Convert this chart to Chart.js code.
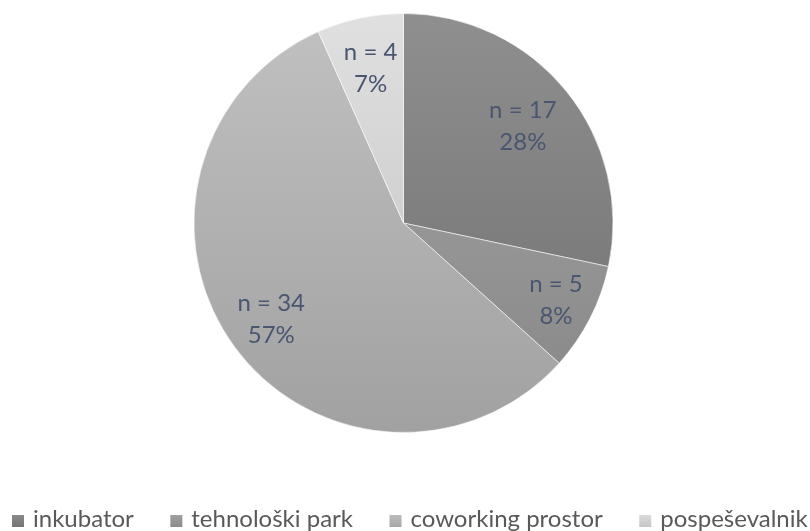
<!DOCTYPE html>
<html>
<head>
<meta charset="utf-8">
<script src="https://cdn.jsdelivr.net/npm/chart.js@4/dist/chart.umd.min.js"></script>
<style>
  html, body { margin: 0; padding: 0; background: #fff; }
  #wrap { width: 810px; height: 531px; }
</style>
</head>
<body>
<div id="wrap"><canvas id="pieChart" width="810" height="531"></canvas></div>
<script>
const categories = ['inkubator', 'tehnološki park', 'coworking prostor', 'pospeševalnik'];
const counts = [17, 5, 34, 4];
const baseGrey = [127, 150, 177, 208];

// how far out along the slice the label sits (fraction of radius)
const labelRadius = [0.733, 0.817, 0.78, 0.755];

const FONT = 'Lato, "Open Sans", sans-serif';
const labelColor = '#4a5670';
const legendColor = '#595959';

function grey(v) {
  v = Math.max(0, Math.min(255, Math.round(v)));
  return `rgb(${v},${v},${v})`;
}

function sliceFill(context) {
  const i = context.dataIndex;
  const area = context.chart.chartArea;
  if (!area) return grey(baseGrey[i]);
  const g = context.chart.ctx.createLinearGradient(0, area.top, 0, area.bottom);
  g.addColorStop(0, grey(baseGrey[i] + 16));
  g.addColorStop(1, grey(baseGrey[i] - 16));
  return g;
}

const total = counts.reduce((a, b) => a + b, 0);

const sliceLabels = {
  id: 'sliceLabels',
  afterDatasetsDraw(chart) {
    const c = chart.ctx;
    const meta = chart.getDatasetMeta(0);
    c.save();
    c.font = '24px ' + FONT;
    c.fillStyle = labelColor;
    c.textAlign = 'center';
    c.textBaseline = 'middle';
    meta.data.forEach((arc, i) => {
      const mid = (arc.startAngle + arc.endAngle) / 2;
      const r = arc.outerRadius * labelRadius[i];
      const x = arc.x + Math.cos(mid) * r;
      const y = arc.y + Math.sin(mid) * r;
      const pct = Math.round(counts[i] / total * 100);
      c.fillText('n = ' + counts[i], x, y - 16);
      c.fillText(pct + '%', x, y + 16);
    });
    c.restore();
  }
};

const bottomLegend = {
  id: 'bottomLegend',
  afterDraw(chart) {
    const c = chart.ctx;
    c.save();
    c.font = '24px ' + FONT;
    c.textBaseline = 'alphabetic';
    c.textAlign = 'left';
    let x = 12;
    const baseY = 527;
    categories.forEach((name, i) => {
      const g = c.createLinearGradient(0, baseY - 12, 0, baseY);
      g.addColorStop(0, grey(baseGrey[i] + 10));
      g.addColorStop(1, grey(baseGrey[i] - 10));
      c.fillStyle = g;
      c.fillRect(x, baseY - 12, 12, 12);
      c.fillStyle = legendColor;
      c.fillText(name, x + 21, baseY);
      x += 21 + c.measureText(name).width + 36.5;
    });
    c.restore();
  }
};

new Chart(document.getElementById('pieChart'), {
  type: 'pie',
  data: {
    labels: categories,
    datasets: [{
      data: counts,
      backgroundColor: sliceFill,
      borderColor: 'rgba(255,255,255,0.55)',
      borderWidth: 1,
      hoverOffset: 0
    }]
  },
  options: {
    responsive: false,
    animation: false,
    layout: { padding: { top: 13, bottom: 98, left: 0, right: 3 } },
    plugins: {
      legend: { display: false },
      tooltip: { enabled: false }
    }
  },
  plugins: [sliceLabels, bottomLegend]
});
</script>
</body>
</html>
